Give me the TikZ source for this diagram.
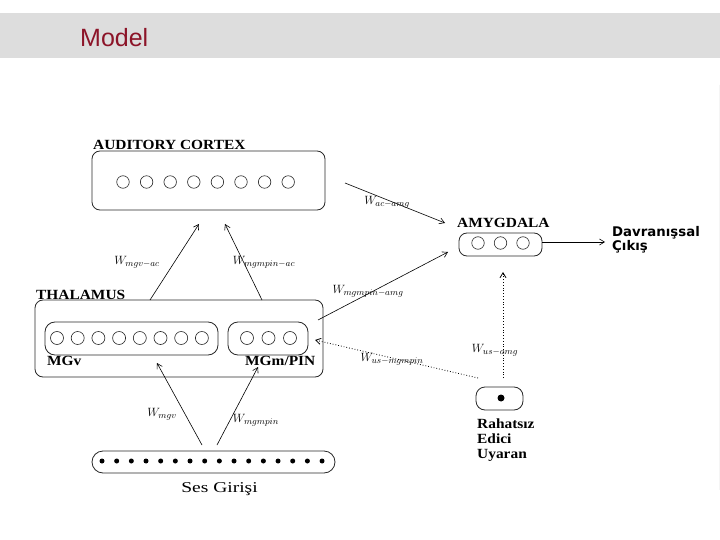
\documentclass[tikz,border=0pt]{standalone}
\usepackage{fontspec}
\setmainfont{Liberation Serif}
\newfontfamily\titlefont{Liberation Sans}
\newfontfamily\outfont{DejaVu Sans}
\newfontfamily\labfont[FakeStretch=1.1]{Liberation Serif}
\usetikzlibrary{arrows.meta,calc}
\definecolor{hdr}{RGB}{221,221,221}
\definecolor{titlered}{RGB}{140,20,40}
\definecolor{boxline}{RGB}{40,40,40}
\tikzset{
  box/.style={draw=boxline,line width=0.8pt,rounded corners=#1,inner sep=0pt},
  box/.default=8pt,
  unit/.style={draw=boxline,line width=0.6pt,circle,inner sep=0pt,minimum size=12.5pt},
  dotu/.style={fill=black,circle,inner sep=0pt,minimum size=5pt},
  blab/.style={font=\labfont\bfseries\fontsize{14}{15}\selectfont,inner sep=0pt,anchor=base west,align=left},
  wlab/.style={font=\fontsize{13}{15}\selectfont,inner sep=0pt},
  conn/.style={line width=0.6pt,-{Straight Barb[length=5pt,width=6pt]}},
  dconn/.style={line width=0.8pt,dotted,-{Straight Barb[length=5pt,width=6pt]}}
}
\begin{document}
\begin{tikzpicture}[x=1pt,y=-1pt]
\useasboundingbox (0,0) rectangle (720,540);
\fill[white] (0,0) rectangle (720,540);
% header
\fill[hdr] (0,13) rectangle (720,58);
\node[font=\titlefont\fontsize{25}{28}\selectfont,text=titlered,anchor=base west,inner sep=0pt] (title) at (80,47) {Model};
\draw[black!4,line width=0.8pt] (719,85) -- (719,490);

% auditory cortex
\node[box,minimum width=233pt,minimum height=59pt] (ac) at (208.5,180.5) {};
\node[blab] (aclab) at (93,150) {AUDITORY CORTEX};
\foreach \i in {0,...,7} \node[unit] (ac\i) at (123+\i*23.6,182) {};

% thalamus
\node[box,minimum width=288pt,minimum height=77pt] (thal) at (179,338.5) {};
\node[blab] (thallab) at (36,299) {THALAMUS};
\node[box=10pt,minimum width=173pt,minimum height=33pt] (mgv) at (131.5,338.5) {};
\foreach \i in {0,...,7} \node[unit,minimum size=13pt] (mgv\i) at (57+\i*20.7,338) {};
\node[blab] (mgvlab) at (47,365) {MGv};
\node[box=10pt,minimum width=80pt,minimum height=33pt] (mgm) at (268,338.5) {};
\foreach \i in {0,...,2} \node[unit,minimum size=13pt] (mgm\i) at (247+\i*21.5,338) {};
\node[blab] (mgmlab) at (245,365) {MGm/PIN};

% input
\node[box=11pt,minimum width=243pt,minimum height=22pt] (inp) at (213.5,462) {};
\foreach \i in {0,...,15} \node[dotu] (in\i) at (102+\i*14.67,461) {};
\node[font=\fontsize{15}{17}\selectfont,inner sep=0pt,anchor=base] (inplab) at (219.5,492) {\scalebox{1.3}[1]{Ses Girişi}};

% amygdala
\node[box,minimum width=83pt,minimum height=23pt] (amy) at (500.5,244.5) {};
\foreach \i in {0,...,2} \node[unit] (amy\i) at (478+\i*22.5,243) {};
\node[blab] (amylab) at (457,227) {AMYGDALA};

% unconditioned stimulus
\node[box=9pt,minimum width=47pt,minimum height=23pt] (us) at (499.5,398.5) {};
\node[dotu,minimum size=7pt] (usdot) at (501,398) {};
\node[blab] (uslab) at (477,458) {Rahatsız\\Edici\\Uyaran};

% output
\node[font=\outfont\bfseries\fontsize{13.3}{13.5}\selectfont,anchor=base west,inner sep=0pt,align=left] (out) at (612,250) {Davranışsal\\Çıkış};

% connector endpoints
\coordinate (t1) at (150,300);
\coordinate (a1) at (199,224);
\coordinate (t2) at (262,300);
\coordinate (a2) at (225,224);
\coordinate (acr) at (345,183);
\coordinate (am1) at (445,223);
\coordinate (tr) at (318,320);
\coordinate (am2) at (448,252);
\coordinate (i1) at (202,445);
\coordinate (v1) at (157,363);
\coordinate (i2) at (217,445);
\coordinate (m1) at (258,367);
\coordinate (amo) at (542,242);
\coordinate (oute) at (605,242);
\coordinate (ust) at (503,378);
\coordinate (amb) at (503,272);
\coordinate (usl) at (478,378);
\coordinate (mgr) at (315,340);

\draw[conn] (t1) -- (a1);
\draw[conn] (t2) -- (a2);
\draw[conn] (acr) -- (am1);
\draw[conn] (tr) -- (am2);
\draw[conn] (i1) -- (v1);
\draw[conn] (i2) -- (m1);
\draw[conn] (amo) -- (oute);
\draw[dconn] (ust) -- (amb);
\draw[dconn] (usl) -- (mgr);

% weight labels
\node[wlab] (w1) at (137,262) {$W_{mgv-ac}$};
\node[wlab] (w2) at (264,262) {$W_{mgmpin-ac}$};
\node[wlab] (w3) at (387,202) {$W_{ac-amg}$};
\node[wlab] (w4) at (368,291) {$W_{mgmpin-amg}$};
\node[wlab] (w5) at (495,350) {$W_{us-amg}$};
\node[wlab] (w6) at (392,359) {$W_{us-mgmpin}$};
\node[wlab] (w7) at (162,414) {$W_{mgv}$};
\node[wlab] (w8) at (256,420) {$W_{mgmpin}$};
\end{tikzpicture}
\end{document}
